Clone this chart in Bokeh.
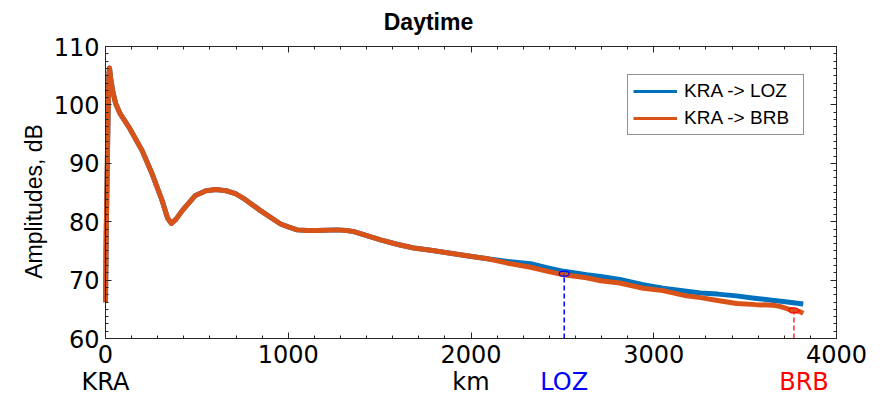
import math
from bokeh.plotting import figure
from bokeh.models import (Range1d, LinearAxis, SingleIntervalTicker, Label,
                          Legend, LegendItem, ColumnDataSource,
                          CustomLabelingPolicy)
from bokeh.embed import file_html
from bokeh.resources import INLINE

# ---------------- data ----------------
common_km = [0, 4, 9, 14, 18, 22, 28, 40, 55, 80, 128, 200, 255, 310, 340, 361,
             385, 420, 492, 550, 605, 660, 711, 760, 848, 958, 1000, 1049, 1104,
             1158, 1268, 1320, 1359, 1430, 1505, 1600, 1687, 1780, 1870, 1950,
             2015, 2100]
common_db = [66.2, 78.0, 88.0, 98.0, 105.0, 106.3, 104.6, 102.3, 100.3, 98.5,
             96.2, 92.2, 88.2, 83.6, 80.6, 79.7, 80.4, 81.9, 84.5, 85.3, 85.5,
             85.3, 84.8, 83.9, 81.9, 79.6, 79.1, 78.6, 78.5, 78.5, 78.6, 78.5,
             78.3, 77.6, 76.9, 76.1, 75.5, 75.1, 74.7, 74.3, 74.0, 73.6]

loz_tail_km = [2200, 2326, 2420, 2508, 2632, 2709, 2814, 2942, 3050, 3179, 3256,
               3350, 3453, 3550, 3635, 3720, 3818]
loz_tail_db = [73.2, 72.8, 72.1, 71.5, 70.9, 70.6, 70.1, 69.2, 68.6, 68.1, 67.8,
               67.6, 67.3, 66.9, 66.6, 66.3, 65.9]

brb_tail_km = [2200, 2326, 2420, 2508, 2632, 2709, 2814, 2900, 2942, 3050, 3179,
               3256, 3350, 3453, 3560, 3654, 3690, 3730, 3767, 3800, 3818]
brb_tail_db = [72.9, 72.2, 71.5, 70.9, 70.4, 69.9, 69.5, 68.9, 68.6, 68.2, 67.3,
               67.0, 66.5, 66.0, 65.8, 65.7, 65.5, 65.1, 64.8, 64.6, 64.3]

loz_km = common_km + loz_tail_km
loz_db = common_db + loz_tail_db
brb_km = common_km + brb_tail_km
brb_db = common_db + brb_tail_db

series_labels = ["KRA -> LOZ", "KRA -> BRB"]

station_names = ["KRA", "LOZ", "BRB"]
station_km = [0, 2510, 3822]
station_colors = ["black", "blue", "red"]

loz_mark_km, loz_mark_db = 2510, 71.1
brb_mark_km, brb_mark_db = 3767, 64.8

x_min, x_max = 0, 4000
y_min, y_max = 60, 110

BLUE = "#0072BD"
ORANGE = "#D95319"
AX = "#262626"

# ---------------- geometry (pixels of the axes box on the canvas) ----------------
W, H = 880, 395
PX_L, PX_R, PX_T, PX_B = 105, 836, 46, 338
kx = (PX_R - PX_L) / (x_max - x_min)
ky = (PX_B - PX_T) / (y_max - y_min)


def px2x(px):
    return x_min + (px - PX_L) / kx


def px2y(py):
    return y_min + (PX_B - py) / ky


p = figure(width=W, height=H, output_backend="svg", toolbar_location=None,
           x_range=Range1d(px2x(0), px2x(W)),
           y_range=Range1d(px2y(H), px2y(0)),
           x_axis_type=None, y_axis_type=None,
           min_border_left=0, min_border_right=0, min_border_top=0,
           min_border_bottom=0)
p.grid.visible = False
p.outline_line_color = None
p.background_fill_color = "white"
p.border_fill_color = "white"


def make_axis(interval, minor, loc, bounds, show_labels):
    ax = LinearAxis(ticker=SingleIntervalTicker(interval=interval,
                                                num_minor_ticks=minor),
                    fixed_location=loc, bounds=bounds)
    ax.axis_line_color = AX
    ax.major_tick_line_color = AX
    ax.minor_tick_line_color = AX
    ax.major_tick_in = 6
    ax.major_tick_out = 0
    ax.minor_tick_in = 3
    ax.minor_tick_out = 0
    ax.major_label_text_font = "DejaVu Sans"
    ax.major_label_text_font_size = "24px"
    ax.major_label_text_color = "black"
    ax.major_label_standoff = 6
    if not show_labels:
        ax.major_label_policy = CustomLabelingPolicy(code="return false")
    return ax


p.add_layout(make_axis(1000, 7, y_min, (x_min, x_max), True), "below")
p.add_layout(make_axis(1000, 7, y_max, (x_min, x_max), False), "above")
p.add_layout(make_axis(10, 8, x_min, (y_min, y_max), True), "left")
p.add_layout(make_axis(10, 8, x_max, (y_min, y_max), False), "right")

# ---------------- lines ----------------
p.line(loz_km, loz_db, line_color=BLUE, line_width=5, line_join="round")
p.line(brb_km, brb_db, line_color=ORANGE, line_width=5, line_join="round")

# station markers & drop lines
p.segment(x0=[loz_mark_km], y0=[y_min], x1=[loz_mark_km], y1=[loz_mark_db],
          line_color="blue", line_width=1.5, line_dash="5 3")
p.segment(x0=[brb_mark_km], y0=[y_min], x1=[brb_mark_km], y1=[brb_mark_db],
          line_color="#ff3333", line_width=1.5, line_dash="5 3")
p.ellipse(x=[loz_mark_km], y=[loz_mark_db], width=10, height=5,
          width_units="screen", height_units="screen",
          fill_alpha=0, line_color="blue", line_width=1.2)
p.ellipse(x=[brb_mark_km], y=[brb_mark_db], width=10, height=5,
          width_units="screen", height_units="screen",
          fill_alpha=0, line_color="red", line_width=1.2)

# legend (thin sample lines)
src_dummy = ColumnDataSource(data=dict(x=[float("nan")], y=[float("nan")]))
leg_b = p.line("x", "y", source=src_dummy, line_color=BLUE, line_width=3)
leg_o = p.line("x", "y", source=src_dummy, line_color=ORANGE, line_width=3)
legend = Legend(items=[LegendItem(label=series_labels[0], renderers=[leg_b]),
                       LegendItem(label=series_labels[1], renderers=[leg_o])],
                location=(627, H - 135))
legend.label_text_font = "Liberation Sans"
legend.label_text_font_size = "19px"
legend.label_text_color = "black"
legend.glyph_width = 44
legend.glyph_height = 22
legend.label_height = 22
legend.label_width = 114
legend.label_standoff = 7
legend.padding = 5
legend.spacing = 5
legend.margin = 0
legend.border_line_color = AX
legend.border_line_width = 1
legend.background_fill_color = "white"
legend.background_fill_alpha = 1
p.add_layout(legend, "center")

# title
p.add_layout(Label(x=px2x(428), y=px2y(21), text="Daytime", text_align="center",
                   text_baseline="middle", text_font="Liberation Sans",
                   text_font_style="bold", text_font_size="23px",
                   text_color="black"))

# y axis label
p.add_layout(Label(x=px2x(33), y=px2y(201), text="Amplitudes, dB",
                   angle=math.pi / 2, text_align="center", text_baseline="middle",
                   text_font="Liberation Sans", text_font_size="23px",
                   text_color="black"))

# x axis label and station names below axis
mid_y = px2y(381)
p.add_layout(Label(x=(x_min + x_max) / 2, y=mid_y, text="km", text_align="center",
                   text_baseline="middle", text_font="DejaVu Sans",
                   text_font_size="24px", text_color="black"))
for name, km, col in zip(station_names, station_km, station_colors):
    p.add_layout(Label(x=km, y=mid_y, text=name, text_align="center",
                       text_baseline="middle", text_font="DejaVu Sans",
                       text_font_size="24px", text_color=col))

open("out.html", "w").write(file_html(p, INLINE))
